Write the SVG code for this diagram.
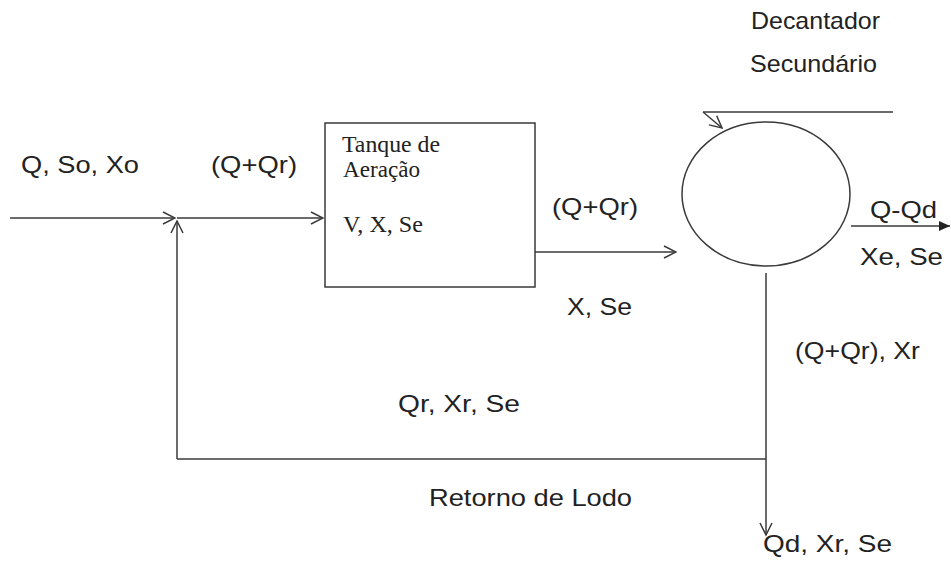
<svg xmlns="http://www.w3.org/2000/svg" width="951" height="561" viewBox="0 0 951 561">
<style>
.ln{fill:none;stroke:#3a3a3a;stroke-width:1.5}
.s{font-family:"Liberation Sans",Arial,sans-serif;font-size:24px;fill:#222}
.r{font-family:"Liberation Serif","Times New Roman",serif;font-size:23px;fill:#222}
</style>
<defs>
<marker id="open" viewBox="0 0 14 14" refX="13" refY="7" markerWidth="14" markerHeight="14" markerUnits="userSpaceOnUse" orient="auto">
<path d="M1,1 L13,7 L1,13" fill="none" stroke="#3a3a3a" stroke-width="1.5"/>
</marker>
<marker id="fill" viewBox="0 0 12 12" refX="11" refY="6" markerWidth="12" markerHeight="12" markerUnits="userSpaceOnUse" orient="auto">
<path d="M0,1 L11,6 L0,11 Z" fill="#222"/>
</marker>
</defs>
<rect width="951" height="561" fill="#fff"/>
<g id="tanque">
<rect x="325" y="123" width="210" height="164" class="ln"/>
<text class="r" x="342" y="152" textLength="98" lengthAdjust="spacingAndGlyphs">Tanque de</text>
<text class="r" x="343" y="177" textLength="77" lengthAdjust="spacingAndGlyphs">Aeração</text>
<text class="r" x="343" y="232" textLength="80" lengthAdjust="spacingAndGlyphs">V, X, Se</text>
</g>
<g id="decantador">
<ellipse cx="766" cy="194" rx="84" ry="72" class="ln"/>
<text class="s" x="751" y="29" textLength="129" lengthAdjust="spacingAndGlyphs">Decantador</text>
<text class="s" x="750" y="72" textLength="127" lengthAdjust="spacingAndGlyphs">Secundário</text>
</g>
<g id="connectors">
<line x1="10" y1="218" x2="175" y2="218" class="ln" marker-end="url(#open)"/>
<line x1="177" y1="218" x2="323" y2="218" class="ln" marker-end="url(#open)"/>
<line x1="177" y1="459" x2="177" y2="221" class="ln" marker-end="url(#open)"/>
<line x1="177" y1="459" x2="766" y2="459" class="ln"/>
<line x1="535" y1="252" x2="676" y2="252" class="ln" marker-end="url(#open)"/>
<line x1="766" y1="273" x2="766" y2="535" class="ln" marker-end="url(#open)"/>
<line x1="851" y1="226" x2="950" y2="226" class="ln" marker-end="url(#fill)"/>
<line x1="893" y1="112" x2="703" y2="112" class="ln"/>
<line x1="703" y1="112" x2="722" y2="128" class="ln" marker-end="url(#open)"/>
</g>
<g id="labels">
<text class="s" x="21" y="173" textLength="118" lengthAdjust="spacingAndGlyphs">Q, So, Xo</text>
<text class="s" x="211" y="173" textLength="86" lengthAdjust="spacingAndGlyphs">(Q+Qr)</text>
<text class="s" x="552" y="215" textLength="86" lengthAdjust="spacingAndGlyphs">(Q+Qr)</text>
<text class="s" x="567" y="315" textLength="65" lengthAdjust="spacingAndGlyphs">X, Se</text>
<text class="s" x="870" y="218" textLength="67" lengthAdjust="spacingAndGlyphs">Q-Qd</text>
<text class="s" x="860" y="265" textLength="83" lengthAdjust="spacingAndGlyphs">Xe, Se</text>
<text class="s" x="795" y="359" textLength="125" lengthAdjust="spacingAndGlyphs">(Q+Qr), Xr</text>
<text class="s" x="398" y="412" textLength="122" lengthAdjust="spacingAndGlyphs">Qr, Xr, Se</text>
<text class="s" x="429" y="506" textLength="203" lengthAdjust="spacingAndGlyphs">Retorno de Lodo</text>
<text class="s" x="763" y="552" textLength="129" lengthAdjust="spacingAndGlyphs">Qd, Xr, Se</text>
</g>
</svg>
